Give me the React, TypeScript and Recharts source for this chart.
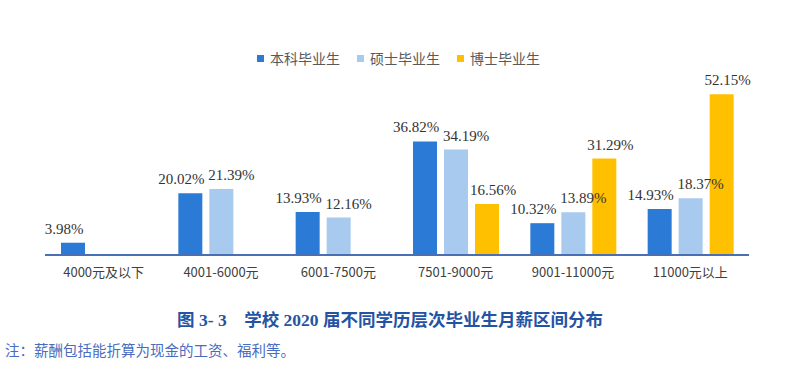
import { BarChart, Bar, XAxis, YAxis, LabelList, Legend } from 'recharts'

// 月薪区间
const categories = ['4000元及以下', '4001-6000元', '6001-7500元', '7501-9000元', '9001-11000元', '11000元以上']
// 各学历占比 (%)
const bachelor = [3.98, 20.02, 13.93, 36.82, 10.32, 14.93]
const master = [null, 21.39, 12.16, 34.19, 13.89, 18.37]
const doctor = [null, null, null, 16.56, 31.29, 52.15]

const seriesNames = ['本科毕业生', '硕士毕业生', '博士毕业生']
const COLORS = ['#2b7bd6', '#a8caee', '#ffc000']

const data = categories.map((name, i) => ({
  name,
  bachelor: bachelor[i],
  master: master[i],
  doctor: doctor[i],
}))

// 数值标签，Excel 里标签略有左右错开
const makeLabel = (dx: number) => (props: any) => {
  const { x, y, width, value } = props
  if (value == null) return null
  return (
    <text
      x={Number(x) + Number(width) / 2 + dx}
      y={Number(y) - 9}
      textAnchor="middle"
      fill="#333"
      fontSize={15}
      fontFamily="'Liberation Serif', 'DejaVu Serif', serif"
    >
      {`${Number(value).toFixed(2)}%`}
    </text>
  )
}

function LegendBox() {
  return (
    <div style={{ display: 'flex', justifyContent: 'center', gap: 17, fontFamily: "'Noto Sans CJK SC', sans-serif", fontSize: 14, color: '#595959', height: 20 }}>
      {seriesNames.map((n, i) => (
        <div key={n} style={{ display: 'flex', alignItems: 'center', gap: 6 }}>
          <span style={{ width: 7, height: 7, background: COLORS[i], display: 'inline-block' }} />
          <span>{n}</span>
        </div>
      ))}
    </div>
  )
}

export default function App() {
  return (
    <div style={{ position: 'absolute', left: 0, top: 0, width: 797, height: 372, background: '#fff' }}>
      <BarChart
        width={797}
        height={290}
        data={data}
        margin={{ top: 50, right: 48, left: 45, bottom: 5 }}
        barSize={24}
        barGap={7}
      >
        <Legend verticalAlign="top" height={20} content={() => <LegendBox />} wrapperStyle={{ top: 48, left: 0, width: 797 }} />
        <XAxis
          dataKey="name"
          height={30}
          axisLine={{ stroke: '#4a6fb5', strokeWidth: 2 }}
          tickLine={false}
          tick={{ fill: '#404040', fontSize: 13, fontFamily: "'Noto Sans CJK SC', sans-serif" }}
          dy={5}
        />
        <YAxis hide domain={[0, 60]} />
        <Bar dataKey="bachelor" fill={COLORS[0]} isAnimationActive={false}>
          <LabelList dataKey="bachelor" content={makeLabel(-9)} />
        </Bar>
        <Bar dataKey="master" fill={COLORS[1]} isAnimationActive={false}>
          <LabelList dataKey="master" content={makeLabel(10)} />
        </Bar>
        <Bar dataKey="doctor" fill={COLORS[2]} isAnimationActive={false}>
          <LabelList dataKey="doctor" content={makeLabel(6)} />
        </Bar>
      </BarChart>
      <div style={{ position: 'absolute', left: 0, width: 780, top: 306, textAlign: 'center', fontSize: 17.5, fontWeight: 'bold', color: '#2553a3', fontFamily: "'Liberation Serif', 'Noto Sans CJK SC', serif", whiteSpace: 'pre' }}>
        {'图 3- 3    学校 2020 届不同学历层次毕业生月薪区间分布'}
      </div>
      <div style={{ position: 'absolute', left: 5, top: 339, fontSize: 14.5, color: '#4a6cc0', fontFamily: "'Noto Sans CJK SC', serif" }}>
        注：薪酬包括能折算为现金的工资、福利等。
      </div>
    </div>
  )
}
